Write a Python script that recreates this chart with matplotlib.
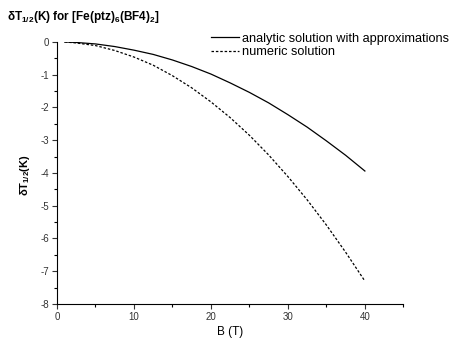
import matplotlib
matplotlib.use("Agg")
import matplotlib.pyplot as plt
from matplotlib.ticker import MultipleLocator

plt.rcParams['font.family'] = ['Liberation Sans', 'DejaVu Sans']
plt.rcParams['mathtext.fontset'] = 'custom'
plt.rcParams['mathtext.rm'] = 'Liberation Sans'
plt.rcParams['mathtext.bf'] = 'Liberation Sans:bold'
plt.rcParams['mathtext.default'] = 'regular'
plt.rcParams['axes.unicode_minus'] = False

B = [1, 2.5, 5, 7.5, 10, 12.5, 15, 17.5, 20, 22.5, 25, 27.5, 30, 32.5, 35, 37.5, 40]
analytic = [0.0, -0.015, -0.06, -0.14, -0.25, -0.38, -0.55, -0.75, -0.98, -1.25,
            -1.54, -1.86, -2.22, -2.60, -3.02, -3.46, -3.94]
numeric = [0.0, -0.03, -0.11, -0.26, -0.46, -0.71, -1.03, -1.40, -1.83, -2.31,
           -2.85, -3.45, -4.11, -4.82, -5.59, -6.42, -7.30]

fig = plt.figure(figsize=(4.51, 3.44), dpi=100)
ax = fig.add_axes([0.1264, 0.1163, 0.768, 0.7617])

ax.plot(B, analytic, color='black', lw=0.9, label='analytic solution with approximations')
ax.plot(B, numeric, color='black', lw=0.9, ls=(0, (2, 1.5)), label='numeric solution')

ax.set_xlim(0, 45)
ax.set_ylim(-8, 0)
ax.xaxis.set_major_locator(MultipleLocator(10))
ax.xaxis.set_minor_locator(MultipleLocator(5))
ax.yaxis.set_major_locator(MultipleLocator(1))
ax.yaxis.set_minor_locator(MultipleLocator(0.5))
ax.set_xticks([0, 10, 20, 30, 40])
for s in ['top', 'right']:
    ax.spines[s].set_visible(False)
for s in ['left', 'bottom']:
    ax.spines[s].set_linewidth(0.8)
ax.tick_params(which='major', direction='out', length=3.5, width=0.8, labelsize=7, pad=2, colors='#333333', labelcolor='#333333')
ax.tick_params(which='minor', direction='out', length=2, width=0.8)

ax.set_xlabel('B (T)', fontsize=8.5, labelpad=3)
fig.text(0.055, 0.49, r'$\delta$T$_{1/2}$(K)', rotation=90, fontsize=8, fontweight='bold',
         ha='center', va='center')
fig.text(0.015, 0.95, r'$\delta$T$_{1/2}$(K) for [Fe(ptz)$_6$(BF4)$_2$]', fontsize=8.5,
         fontweight='bold', ha='left', va='center')

leg = ax.legend(loc='upper left', bbox_to_anchor=(0.43, 1.055), frameon=False, fontsize=9.2,
                handlelength=2.2, handletextpad=0.25, labelspacing=0.12, borderaxespad=0)

fig.savefig('out.png', dpi=100)
